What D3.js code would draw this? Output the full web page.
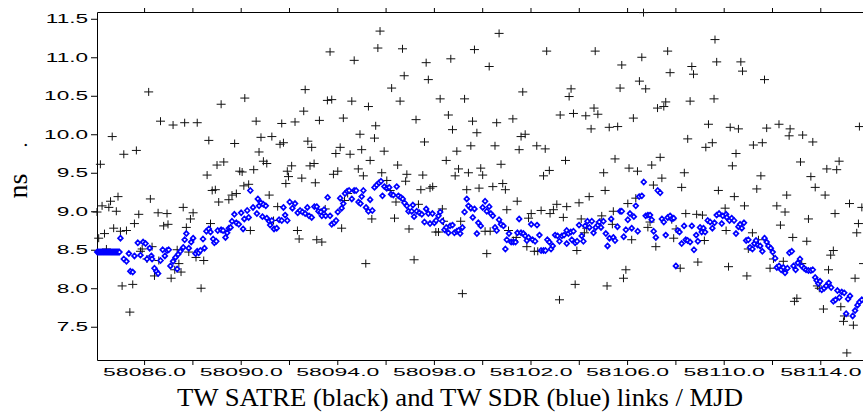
<!DOCTYPE html>
<html>
<head>
<meta charset="utf-8">
<script src="https://cdn.jsdelivr.net/npm/d3@7"></script>
<style>
  html, body { margin: 0; padding: 0; background: #fff; }
  svg { display: block; }
  .serif { font-family: "Liberation Serif", "DejaVu Serif", "Times New Roman", serif; }
</style>
</head>
<body>
<svg id="chart"></svg>
<script>
// TW SATRE link (black crosses): [MJD, ns]
const satre = [
  [58086.19,10.55],[58089.19,10.39],[58090.17,10.47],[58086.68,10.17],[58087.20,10.12],[58087.68,10.15],[58088.20,10.15],[58090.64,10.17],
  [58084.68,9.97],[58088.68,9.92],[58089.75,9.88],[58085.68,9.79],[58085.16,9.74],[58084.19,9.61],[58089.02,9.60],[58089.30,9.64],
  [58088.61,9.47],[58089.96,9.52],[58090.06,9.51],[58090.54,9.54],[58090.13,9.33],[58090.33,9.35],[58088.82,9.27],[58088.95,9.28],
  [58089.64,9.21],[58089.82,9.23],[58089.51,9.15],[58089.09,9.12],[58084.92,9.19],[58084.61,9.13],[58086.26,9.16],[58084.26,9.07],
  [58084.54,9.05],[58084.85,9.00],[58084.05,8.99],[58087.62,9.05],[58085.78,8.96],[58086.58,8.98],[58086.95,8.97],[58088.03,8.98],
  [58087.92,8.90],[58085.60,8.84],[58086.99,8.83],[58086.81,8.81],[58087.75,8.79],[58088.75,8.84],[58084.74,8.78],[58085.02,8.74],
  [58085.27,8.75],[58084.36,8.71],[58084.12,8.65],[58090.40,8.75],[58084.44,8.51],[58086.33,8.54],[58085.85,8.48],[58085.92,8.51],
  [58087.37,8.50],[58087.85,8.47],[58088.15,8.40],[58088.47,8.36],[58086.12,8.38],[58086.61,8.36],[58087.44,8.32],[58087.53,8.21],
  [58087.27,8.24],[58086.43,8.16],[58087.12,8.13],[58085.09,8.03],[58085.53,8.05],[58088.36,8.00],[58085.41,7.69],
  [58095.77,11.34],[58095.68,11.12],[58096.70,11.11],[58093.70,11.07],[58094.70,10.96],[58096.77,10.76],[58092.67,10.58],[58096.25,10.60],
  [58093.59,10.44],[58093.77,10.45],[58094.60,10.43],[58096.60,10.43],[58095.29,10.36],[58092.61,10.30],[58094.25,10.21],[58091.70,10.14],
  [58092.25,10.16],[58093.26,10.18],[58095.59,10.11],[58090.84,9.96],[58091.29,9.97],[58095.54,9.95],[58094.94,10.00],[58092.78,9.91],
  [58092.94,9.83],[58091.63,9.87],[58091.77,9.89],[58090.76,9.77],[58094.12,9.83],[58093.94,9.75],[58094.53,9.74],[58095.01,9.80],
  [58095.94,9.78],[58095.36,9.66],[58090.94,9.65],[58091.08,9.62],[58092.11,9.59],[58092.87,9.59],[58093.04,9.62],[58096.50,9.60],
  [58091.93,9.52],[58094.87,9.55],[58093.84,9.48],[58094.02,9.52],[58091.98,9.45],[58092.53,9.43],[58095.08,9.46],[58095.84,9.50],
  [58096.88,9.48],[58091.87,9.36],[58093.09,9.37],[58096.05,9.40],[58096.83,9.39],[58091.18,9.21],[58094.43,9.23],[58096.19,9.27],
  [58091.53,9.06],[58093.50,9.03],[58094.30,9.14],[58096.43,9.12],[58091.36,8.88],[58095.43,8.90],[58096.37,8.91],[58094.18,8.78],
  [58092.35,8.75],[58092.42,8.64],[58093.15,8.63],[58093.36,8.60],[58095.18,8.32],[58096.97,8.77],
  [58100.70,11.31],[58099.68,11.10],[58102.67,11.08],[58098.70,10.98],[58097.68,10.93],[58100.29,10.88],[58097.77,10.71],[58101.68,10.55],
  [58098.26,10.46],[58099.27,10.46],[58097.26,10.19],[58098.60,10.25],[58099.60,10.17],[58100.60,10.15],[58101.27,10.20],[58103.23,10.25],
  [58098.77,10.06],[58099.78,10.02],[58101.61,9.97],[58101.78,10.00],[58097.61,9.90],[58099.53,9.85],[58098.95,9.78],[58100.53,9.85],
  [58101.53,9.80],[58102.26,9.85],[58102.61,9.81],[58098.51,9.66],[58100.78,9.61],[58099.02,9.55],[58099.94,9.56],[58099.43,9.50],
  [58098.88,9.46],[58100.02,9.47],[58102.78,9.53],[58102.54,9.46],[58097.54,9.47],[58097.46,9.28],[58097.84,9.30],[58097.95,9.32],
  [58099.36,9.28],[58099.87,9.30],[58100.44,9.32],[58100.85,9.36],[58100.96,9.28],[58103.45,9.66],[58097.36,9.09],[58098.35,9.03],
  [58101.45,9.13],[58101.02,9.02],[58103.09,9.09],[58102.95,9.02],[58102.81,8.97],[58102.44,9.01],[58102.03,8.97],[58101.92,8.91],
  [58103.36,8.92],[58098.40,8.87],[58099.11,8.87],[58098.08,8.73],[58098.19,8.73],[58100.12,8.74],[58100.33,8.74],[58101.09,8.75],
  [58101.41,8.66],[58101.29,8.62],[58101.85,8.54],[58102.16,8.48],[58102.30,8.48],[58100.19,8.45],[58097.18,8.37],[58099.18,7.93],
  [58103.20,7.85],
  [58106.68,11.58],[58109.64,11.23],[58109.71,10.94],[58104.68,11.08],[58106.61,11.00],[58107.68,11.08],[58105.78,10.90],[58108.68,10.88],
  [58107.78,10.80],[58108.75,10.78],[58106.51,10.69],[58103.68,10.59],[58103.60,10.49],[58105.71,10.60],[58106.77,10.59],[58107.60,10.42],
  [58107.52,10.36],[58107.26,10.34],[58108.61,10.43],[58109.60,10.46],[58104.63,10.34],[58103.78,10.27],[58104.29,10.24],[58104.79,10.26],
  [58106.26,10.21],[58104.51,10.07],[58105.26,10.09],[58105.61,10.10],[58109.37,10.13],[58108.51,9.94],[58109.53,9.89],[58109.26,9.83],
  [58105.50,9.68],[58107.37,9.70],[58107.02,9.60],[58106.08,9.56],[58106.43,9.52],[58105.03,9.50],[58108.37,9.50],[58107.44,9.43],
  [58107.09,9.34],[58108.26,9.31],[58109.78,9.27],[58105.09,9.27],[58104.43,9.19],[58106.36,9.17],[58104.01,9.11],[58103.50,9.06],
  [58106.03,9.10],[58105.43,9.00],[58104.95,8.94],[58108.43,8.97],[58108.88,8.96],[58109.12,8.95],[58104.10,8.90],[58104.88,8.86],
  [58105.39,8.83],[58106.95,8.86],[58107.85,8.89],[58104.33,8.78],[58106.86,8.79],[58108.03,8.77],[58104.23,8.72],[58106.19,8.63],
  [58107.93,8.65],[58109.20,8.62],[58103.92,8.49],[58107.19,8.54],[58108.93,8.34],[58105.95,8.24],[58108.20,8.26],[58105.85,8.13],
  [58103.85,8.05],[58105.17,8.03],
  [58110.71,10.94],[58110.78,10.82],[58111.69,10.71],[58110.27,10.09],[58110.61,10.07],[58111.78,10.08],[58112.29,10.13],[58112.75,10.07],
  [58112.71,9.98],[58113.27,9.99],[58113.69,9.90],[58111.23,9.86],[58111.60,9.89],[58115.62,10.10],[58110.51,9.75],[58110.36,9.59],
  [58113.18,9.64],[58114.78,9.65],[58114.27,9.55],[58114.68,9.54],[58111.54,9.46],[58113.61,9.45],[58111.37,9.29],[58113.79,9.31],
  [58110.44,9.19],[58112.61,9.21],[58114.20,9.21],[58110.06,9.04],[58110.86,9.07],[58112.20,9.07],[58112.54,8.99],[58114.61,8.97],
  [58115.21,9.10],[58115.72,9.05],[58113.51,8.90],[58112.35,8.82],[58115.58,8.84],[58110.10,8.75],[58111.19,8.72],[58115.51,8.72],
  [58112.86,8.66],[58113.44,8.61],[58111.44,8.63],[58111.02,8.51],[58114.54,8.49],[58114.43,8.43],[58112.06,8.38],[58112.47,8.35],
  [58113.23,8.32],[58110.20,8.28],[58110.96,8.16],[58111.92,8.26],[58114.34,8.24],[58115.44,8.13],[58113.88,8.03],[58113.96,8.00],
  [58113.03,7.87],[58112.93,7.83],[58114.13,7.73],[58114.85,7.76],[58115.00,7.64],[58114.96,7.57],[58115.37,7.52],[58115.10,7.16],
  [58115.79,8.32]
];

// TW SDR link (blue diamonds): [MJD, ns]
const sdr = [
  [58084.06,8.47],[58084.10,8.47],[58084.14,8.47],[58084.18,8.47],[58084.22,8.47],[58084.26,8.47],[58084.30,8.47],[58084.34,8.47],
  [58084.38,8.47],[58084.42,8.47],[58084.46,8.47],[58084.50,8.47],[58084.54,8.47],[58084.58,8.47],[58084.62,8.47],[58084.66,8.47],
  [58084.70,8.47],[58084.74,8.47],[58084.78,8.47],[58084.82,8.47],[58084.86,8.47],[58084.90,8.47],[58084.94,8.47],[58084.98,8.47],
  [58085.02,8.65],[58085.16,8.38],[58085.27,8.35],[58085.37,8.45],[58085.43,8.22],[58085.53,8.21],[58085.60,8.42],[58085.74,8.59],
  [58085.85,8.43],[58085.96,8.60],[58086.06,8.58],[58086.12,8.38],[58086.23,8.52],[58086.30,8.42],[58086.33,8.38],[58086.43,8.26],
  [58086.51,8.22],[58086.58,8.19],[58086.68,8.36],[58086.77,8.50],[58086.86,8.42],[58086.95,8.49],[58087.02,8.50],[58087.09,8.29],
  [58087.20,8.35],[58087.30,8.40],[58087.37,8.25],[58087.41,8.44],[58087.50,8.48],[58087.62,8.53],[58087.68,8.63],[58087.75,8.71],
  [58087.85,8.52],[58087.95,8.60],[58088.03,8.65],[58088.13,8.45],[58088.20,8.48],[58088.26,8.46],[58088.33,8.49],[58088.44,8.64],
  [58088.50,8.52],[58088.58,8.74],[58088.68,8.77],[58088.75,8.73],[58088.86,8.64],[58088.91,8.59],[58088.99,8.61],[58089.05,8.75],
  [58089.19,8.76],[58089.27,8.75],[58089.37,8.66],[58089.44,8.72],[58089.51,8.78],[58089.58,8.79],[58089.64,8.87],[58089.74,8.96],
  [58089.82,8.85],[58089.92,8.83],[58090.02,8.98],[58090.10,8.77],[58090.15,8.90],[58090.27,9.01],[58090.33,8.92],[58090.40,9.27],
  [58090.51,9.05],
  [58090.71,9.16],[58090.76,9.07],[58090.84,9.11],[58090.94,9.09],[58091.04,9.07],[58090.67,8.97],[58090.90,8.93],[58091.08,8.91],
  [58091.18,8.87],[58091.22,8.82],[58091.29,8.88],[58091.38,8.77],[58091.49,8.78],[58091.59,8.89],[58091.70,8.88],[58091.77,9.05],
  [58091.84,8.95],[58091.93,8.88],[58092.03,9.12],[58092.14,9.04],[58092.25,9.10],[58092.36,8.98],[58092.46,9.01],[58092.56,8.99],
  [58092.67,8.97],[58092.76,9.05],[58092.83,8.94],[58092.94,8.92],[58093.05,9.06],[58093.15,9.06],[58093.22,9.00],[58093.32,8.99],
  [58093.36,8.94],[58093.45,9.02],[58093.52,8.94],[58093.60,9.18],[58093.70,8.94],[58093.77,8.83],[58093.87,8.85],[58093.95,8.88],
  [58094.02,8.99],[58094.12,9.17],[58094.18,9.04],[58094.25,9.10],[58094.32,9.23],[58094.41,9.26],[58094.49,9.27],[58094.60,9.16],
  [58094.70,9.27],[58094.78,9.27],[58094.88,9.12],[58094.96,9.10],[58095.01,9.19],[58095.08,9.27],[58095.19,9.05],[58095.29,9.00],
  [58095.36,9.15],[58095.45,9.01],[58095.54,9.31],[58095.63,9.34],[58095.73,9.37],[58095.81,9.39],[58095.87,9.20],[58095.95,9.32],
  [58096.05,9.30],[58096.15,9.31],[58096.23,9.22],[58096.32,9.21],[58096.46,9.32],[58096.53,9.20],[58096.63,9.18],[58096.71,9.16],
  [58096.78,9.11],[58096.88,9.07],[58096.95,9.00],
  [58097.13,9.08],[58097.08,9.00],[58097.18,8.93],[58097.29,9.00],[58097.40,8.98],[58097.50,8.96],[58097.61,8.86],[58097.68,9.03],
  [58097.77,8.97],[58097.84,8.84],[58097.94,8.97],[58098.02,8.85],[58098.09,8.88],[58098.19,8.94],[58098.26,8.99],[58098.35,8.87],
  [58098.44,8.76],[58098.51,8.79],[58098.60,8.72],[58098.67,8.81],[58098.77,8.82],[58098.85,8.72],[58098.95,8.74],[58099.02,8.75],
  [58099.09,8.71],[58099.18,8.79],[58099.27,8.99],[58099.36,9.16],[58099.43,9.07],[58099.53,9.04],[58099.61,8.92],[58099.68,9.03],
  [58099.78,8.71],[58099.84,8.85],[58099.94,8.81],[58100.02,9.05],[58100.12,9.13],[58100.19,9.00],[58100.29,9.06],[58100.36,8.97],
  [58100.44,8.94],[58100.53,8.79],[58100.60,8.75],[58100.70,8.89],[58100.78,8.83],[58100.88,8.81],[58100.96,8.51],[58101.02,8.63],
  [58101.11,8.71],[58101.20,8.60],[58101.29,8.60],[58101.38,8.60],[58101.46,8.72],[58101.53,8.90],[58101.61,8.72],[58101.71,8.71],
  [58101.78,8.68],[58101.85,8.62],[58101.92,8.66],[58102.03,8.83],[58102.09,8.63],[58102.19,8.61],[58102.27,8.82],[58102.37,8.69],
  [58102.44,8.49],[58102.54,8.49],[58102.62,8.49],[58102.70,8.63],[58102.78,8.60],[58102.85,8.51],[58102.92,8.55],[58103.02,8.69],
  [58103.12,8.68],[58103.20,8.61],[58103.30,8.68],[58103.39,8.69],
  [58103.50,8.75],[58103.57,8.71],[58103.67,8.73],[58103.78,8.74],[58103.71,8.63],[58103.50,8.58],[58103.85,8.59],[58103.93,8.61],
  [58104.01,8.82],[58104.12,8.68],[58104.19,8.61],[58104.26,8.81],[58104.36,8.87],[58104.44,8.79],[58104.54,8.87],[58104.61,8.72],
  [58104.70,8.79],[58104.79,8.82],[58104.85,8.86],[58104.92,8.79],[58105.02,8.87],[58105.12,8.71],[58105.19,8.55],[58105.27,8.65],
  [58105.34,8.90],[58105.43,8.66],[58105.50,8.62],[58105.60,8.80],[58105.71,9.00],[58105.78,9.00],[58105.86,8.67],[58105.95,8.76],
  [58106.03,8.89],[58106.12,8.97],[58106.19,8.78],[58106.28,8.93],[58106.36,9.07],[58106.44,8.74],[58106.50,9.19],[58106.61,9.20],
  [58106.69,9.38],[58106.77,8.94],[58106.86,8.95],[58106.95,8.95],[58107.02,8.89],[58107.10,8.74],[58107.19,8.66],[58107.27,9.27],
  [58107.37,9.24],[58107.44,8.90],[58107.52,8.86],[58107.60,8.69],[58107.68,8.92],[58107.78,8.94],[58107.85,8.90],[58107.93,8.91],
  [58108.02,8.29],[58108.10,8.75],[58108.17,8.73],[58108.26,8.58],[58108.36,8.81],[58108.43,8.63],[58108.51,8.62],[58108.61,8.60],
  [58108.68,8.81],[58108.77,8.50],[58108.86,8.69],[58108.93,8.61],[58109.02,8.79],[58109.09,8.73],[58109.16,8.78],[58109.23,8.73],
  [58109.34,8.88],[58109.44,8.86],[58109.53,8.78],[58109.62,8.85],[58109.71,8.95],[58109.81,8.97],
  [58109.96,8.94],[58109.92,8.84],[58110.10,8.96],[58110.13,8.92],[58110.24,8.88],[58110.33,8.91],[58110.43,8.88],[58110.51,8.71],
  [58110.61,8.80],[58110.68,8.83],[58110.75,8.78],[58110.84,8.85],[58110.93,8.62],[58111.02,8.63],[58111.09,8.53],[58111.19,8.51],
  [58111.27,8.58],[58111.34,8.62],[58111.41,8.56],[58111.51,8.55],[58111.60,8.48],[58111.69,8.65],[58111.78,8.60],[58111.85,8.55],
  [58111.95,8.52],[58112.03,8.47],[58112.13,8.39],[58112.20,8.27],[58112.29,8.29],[58112.38,8.24],[58112.47,8.27],[58112.54,8.20],
  [58112.64,8.26],[58112.72,8.46],[58112.82,8.48],[58112.89,8.29],[58112.98,8.24],[58113.07,8.33],[58113.16,8.38],[58113.23,8.29],
  [58113.33,8.26],[58113.41,8.24],[58113.51,8.23],[58113.61,8.23],[58113.69,8.24],[58113.79,8.14],[58113.85,8.10],[58113.92,8.06],
  [58113.99,8.09],[58114.06,7.98],[58114.16,8.00],[58114.24,8.03],[58114.35,8.07],[58114.45,8.01],[58114.54,7.83],[58114.63,7.85],
  [58114.71,7.97],[58114.79,7.88],[58114.89,7.95],[58114.99,7.94],[58115.07,7.67],[58115.15,7.86],[58115.23,7.90],[58115.34,7.64],
  [58115.44,7.71],[58115.54,7.78],[58115.62,7.82],[58115.72,7.85]
];

const xTicks = d3.range(58086, 58116, 2);
const xLabelTicks = d3.range(58086, 58116, 4);
const yTicks = [7.5, 8.0, 8.5, 9.0, 9.5, 10.0, 10.5, 11.0, 11.5];

const X_TITLE = 'TW SATRE (black) and TW SDR (blue) links / MJD';
const Y_TITLE = 'ns';

const WIDTH = 863;
const HEIGHT = 415;
const LEFT = 97;
const TOP = 12;
const BOTTOM = 360;
const SANS = 'Liberation Sans, Arial, Helvetica, sans-serif';

const SVG = d3.select('#chart').attr('width', WIDTH).attr('height', HEIGHT);

const X_SCALE = d3.scaleLinear().domain([58084.05, 58116]).range([LEFT, LEFT + 31.95 * 24.15]);
const Y_SCALE = d3.scaleLinear().domain([7.068, 11.588]).range([BOTTOM, TOP]);

// stretched sans tick labels, like the original plotting program
function stretch(sel, factor) {
  sel.selectAll('text').each((d, i, n) => {
    const t = d3.select(n[i]);
    if (!t.text()) return;
    const w = n[i].getComputedTextLength();
    t.attr('textLength', w * factor).attr('lengthAdjust', 'spacingAndGlyphs');
  });
}

const X_AXIS_G = SVG.append('g')
  .attr('transform', `translate(0, ${BOTTOM})`)
  .call(d3.axisBottom(X_SCALE)
    .tickValues(xTicks)
    .tickSize(5)
    .tickSizeOuter(0)
    .tickFormat((d) => (xLabelTicks.includes(d) ? d.toFixed(1) : '')));
X_AXIS_G.attr('font-family', SANS).attr('font-size', 11.6);
X_AXIS_G.selectAll('text').attr('fill', '#000');
stretch(X_AXIS_G, 1.98);

SVG.append('g')
  .attr('transform', `translate(0, ${TOP})`)
  .call(d3.axisTop(X_SCALE).tickValues(xTicks).tickSize(4).tickSizeOuter(0).tickFormat(''));

const Y_AXIS_G = SVG.append('g')
  .attr('transform', `translate(${LEFT}, 0)`)
  .call(d3.axisLeft(Y_SCALE)
    .tickValues(yTicks)
    .tickSize(6)
    .tickSizeOuter(0)
    .tickFormat(d3.format('.1f')));
Y_AXIS_G.attr('font-family', SANS).attr('font-size', 12);
Y_AXIS_G.selectAll('text').attr('fill', '#000');
stretch(Y_AXIS_G, 1.88);

SVG.selectAll('.domain').attr('stroke', '#000');

// points
const POINTS = SVG.append('g').attr('id', 'points');

POINTS.append('g').attr('id', 'satre')
  .selectAll('path')
  .data(satre)
  .join('path')
  .attr('transform', (d) => `translate(${X_SCALE(d[0])}, ${Y_SCALE(d[1])})`)
  .attr('d', 'M-4.5,0H4.5M0,-4V4')
  .style('stroke', '#111')
  .style('stroke-width', 1)
  .style('fill', 'none');

POINTS.append('g').attr('id', 'sdr')
  .selectAll('path')
  .data(sdr)
  .join('path')
  .attr('transform', (d) => `translate(${X_SCALE(d[0])}, ${Y_SCALE(d[1])})`)
  .attr('d', 'M0,-2.5L2.4,0L0,2.5L-2.4,0Z')
  .style('stroke', '#0000ff')
  .style('stroke-width', 1.7)
  .style('fill', '#ffffff');

// titles
SVG.append('text')
  .attr('class', 'serif')
  .attr('x', 460)
  .attr('y', 406)
  .attr('text-anchor', 'middle')
  .attr('font-size', 26)
  .attr('textLength', 566)
  .attr('lengthAdjust', 'spacingAndGlyphs')
  .attr('fill', '#000')
  .text(X_TITLE);

SVG.append('text')
  .attr('class', 'serif')
  .attr('transform', 'translate(27, 186) rotate(-90)')
  .attr('text-anchor', 'middle')
  .attr('font-size', 28)
  .attr('fill', '#000')
  .text(Y_TITLE);

SVG.append('text')
  .attr('class', 'serif')
  .attr('transform', 'translate(27, 145) rotate(-90)')
  .attr('text-anchor', 'middle')
  .attr('font-size', 20)
  .attr('fill', '#000')
  .text('.');
</script>
</body>
</html>
